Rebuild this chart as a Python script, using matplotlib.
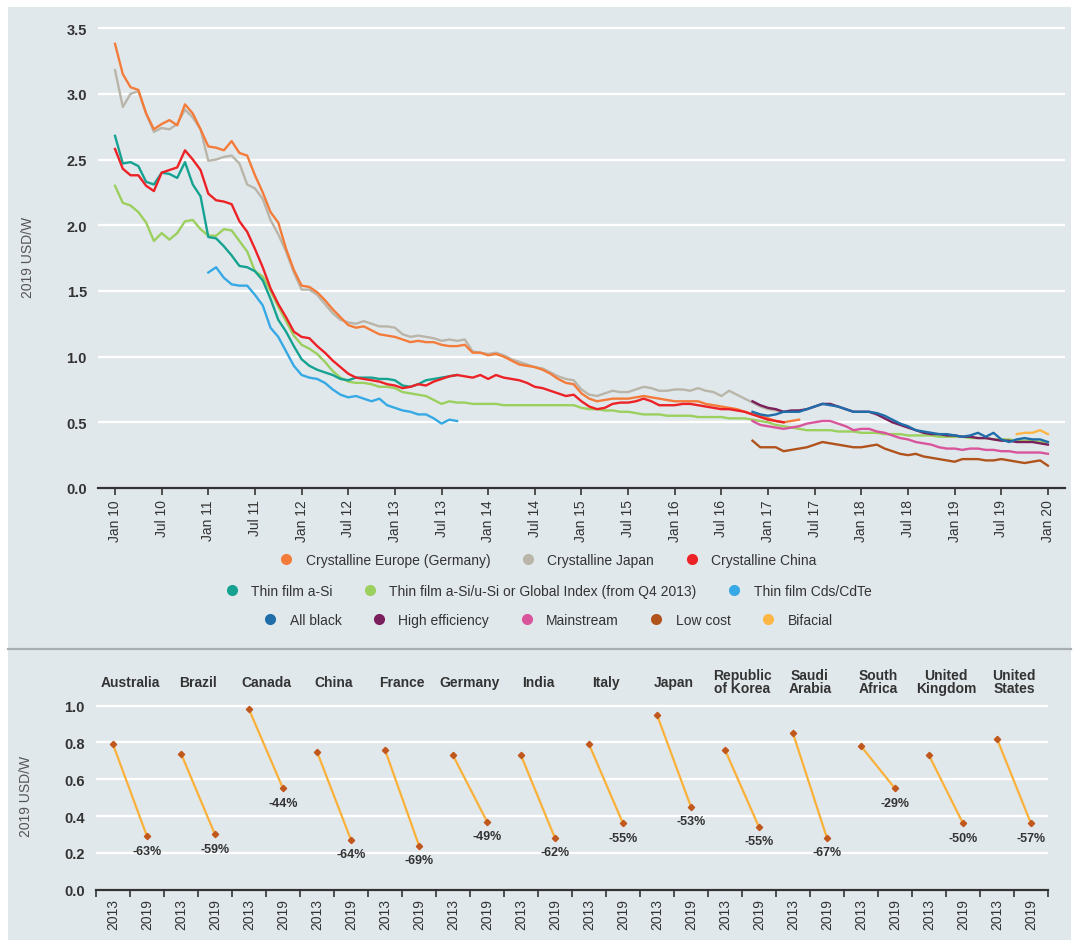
import matplotlib
matplotlib.use("Agg")
import matplotlib.pyplot as plt
from matplotlib.lines import Line2D
from matplotlib.patches import Rectangle
import numpy as np

plt.rcParams['font.family'] = ['Liberation Sans Narrow', 'Liberation Sans', 'DejaVu Sans']

# ---------------------------------------------------------------------------
# Data: monthly module prices, month index 0 = Jan 2010
# ---------------------------------------------------------------------------

month_labels = ["Jan 10", "Jul 10", "Jan 11", "Jul 11", "Jan 12", "Jul 12", "Jan 13",
                "Jul 13", "Jan 14", "Jul 14", "Jan 15", "Jul 15", "Jan 16", "Jul 16",
                "Jan 17", "Jul 17", "Jan 18", "Jul 18", "Jan 19", "Jul 19", "Jan 20"]

cryst_europe_start = 0
cryst_europe = [3.38, 3.15, 3.05, 3.03, 2.85, 2.73, 2.77, 2.80, 2.76, 2.92, 2.85, 2.73,
                2.60, 2.59, 2.57, 2.64, 2.55, 2.53, 2.38, 2.25, 2.10, 2.02, 1.82, 1.66,
                1.54, 1.53, 1.49, 1.43, 1.36, 1.30, 1.24, 1.22, 1.23, 1.20, 1.17, 1.16,
                1.15, 1.13, 1.11, 1.12, 1.11, 1.11, 1.09, 1.08, 1.08, 1.09, 1.03, 1.03,
                1.01, 1.02, 1.00, 0.97, 0.94, 0.93, 0.92, 0.90, 0.87, 0.83, 0.80, 0.79,
                0.72, 0.68, 0.66, 0.67, 0.68, 0.68, 0.68, 0.69, 0.70, 0.69, 0.68, 0.67,
                0.66, 0.66, 0.66, 0.66, 0.64, 0.63, 0.62, 0.61, 0.60, 0.58, 0.56, 0.55,
                0.53, 0.51, 0.50, 0.51, 0.52]

cryst_japan_start = 0
cryst_japan = [3.18, 2.90, 3.00, 3.02, 2.85, 2.71, 2.74, 2.73, 2.77, 2.88, 2.82, 2.73,
               2.49, 2.50, 2.52, 2.53, 2.47, 2.31, 2.28, 2.20, 2.04, 1.93, 1.80, 1.64,
               1.51, 1.51, 1.47, 1.40, 1.33, 1.28, 1.26, 1.25, 1.27, 1.25, 1.23, 1.23,
               1.22, 1.17, 1.15, 1.16, 1.15, 1.14, 1.12, 1.13, 1.12, 1.13, 1.04, 1.03,
               1.02, 1.03, 1.01, 0.98, 0.96, 0.94, 0.92, 0.91, 0.88, 0.85, 0.83, 0.82,
               0.75, 0.71, 0.70, 0.72, 0.74, 0.73, 0.73, 0.75, 0.77, 0.76, 0.74, 0.74,
               0.75, 0.75, 0.74, 0.76, 0.74, 0.73, 0.70, 0.74, 0.71, 0.68, 0.65, 0.62,
               0.60, 0.59, 0.58, 0.58, 0.59]

cryst_china_start = 0
cryst_china = [2.58, 2.43, 2.38, 2.38, 2.30, 2.26, 2.40, 2.42, 2.44, 2.57, 2.50, 2.42,
               2.24, 2.19, 2.18, 2.16, 2.03, 1.95, 1.82, 1.68, 1.52, 1.40, 1.30, 1.19,
               1.15, 1.14, 1.08, 1.03, 0.97, 0.92, 0.87, 0.84, 0.83, 0.82, 0.81, 0.79,
               0.78, 0.76, 0.77, 0.79, 0.78, 0.81, 0.83, 0.85, 0.86, 0.85, 0.84, 0.86,
               0.83, 0.86, 0.84, 0.83, 0.82, 0.80, 0.77, 0.76, 0.74, 0.72, 0.70, 0.71,
               0.66, 0.62, 0.60, 0.61, 0.64, 0.65, 0.65, 0.66, 0.68, 0.66, 0.63, 0.63,
               0.63, 0.64, 0.64, 0.63, 0.62, 0.61, 0.60, 0.60, 0.59, 0.58, 0.56, 0.54,
               0.52, 0.51, 0.50]

thin_asi_start = 0
thin_asi = [2.68, 2.47, 2.48, 2.45, 2.33, 2.31, 2.40, 2.39, 2.36, 2.48, 2.31, 2.22,
            1.91, 1.90, 1.84, 1.77, 1.69, 1.68, 1.65, 1.58, 1.44, 1.28, 1.19, 1.08,
            0.98, 0.93, 0.90, 0.88, 0.86, 0.83, 0.82, 0.84, 0.84, 0.84, 0.83, 0.83,
            0.82, 0.78, 0.77, 0.79, 0.82, 0.83, 0.84, 0.85, 0.86]

thin_global_start = 0
thin_global = [2.30, 2.17, 2.15, 2.10, 2.02, 1.88, 1.94, 1.89, 1.94, 2.03, 2.04, 1.97,
               1.92, 1.92, 1.97, 1.96, 1.88, 1.80, 1.65, 1.61, 1.50, 1.38, 1.27, 1.16,
               1.09, 1.06, 1.02, 0.96, 0.89, 0.84, 0.81, 0.80, 0.80, 0.79, 0.77, 0.77,
               0.76, 0.73, 0.72, 0.71, 0.70, 0.67, 0.64, 0.66, 0.65, 0.65, 0.64, 0.64,
               0.64, 0.64, 0.63, 0.63, 0.63, 0.63, 0.63, 0.63, 0.63, 0.63, 0.63, 0.63,
               0.61, 0.60, 0.60, 0.59, 0.59, 0.58, 0.58, 0.57, 0.56, 0.56, 0.56, 0.55,
               0.55, 0.55, 0.55, 0.54, 0.54, 0.54, 0.54, 0.53, 0.53, 0.53, 0.52, 0.51,
               0.50, 0.48, 0.47, 0.46, 0.45, 0.44, 0.44, 0.44, 0.44, 0.43, 0.43, 0.43,
               0.42, 0.42, 0.42, 0.41, 0.41, 0.41, 0.40, 0.40, 0.40, 0.40, 0.39, 0.39,
               0.39, 0.39, 0.38, 0.38, 0.38, 0.37, 0.37, 0.37, 0.36, 0.36, 0.36, 0.35,
               0.35]

thin_cdte_start = 12
thin_cdte = [1.64, 1.68, 1.60, 1.55, 1.54, 1.54, 1.47, 1.39, 1.22, 1.15, 1.04, 0.93,
             0.86, 0.84, 0.83, 0.80, 0.75, 0.71, 0.69, 0.70, 0.68, 0.66, 0.68, 0.63,
             0.61, 0.59, 0.58, 0.56, 0.56, 0.53, 0.49, 0.52, 0.51]

all_black_start = 82
all_black = [0.58, 0.56, 0.55, 0.56, 0.58, 0.58, 0.58, 0.60, 0.62, 0.64, 0.63, 0.62,
             0.60, 0.58, 0.58, 0.58, 0.57, 0.55, 0.52, 0.49, 0.47, 0.44, 0.43, 0.42,
             0.41, 0.41, 0.40, 0.39, 0.40, 0.42, 0.39, 0.42, 0.37, 0.35, 0.37, 0.38,
             0.37, 0.37, 0.35]

high_eff_start = 82
high_eff = [0.66, 0.63, 0.61, 0.60, 0.58, 0.59, 0.59, 0.60, 0.62, 0.64, 0.64, 0.62,
            0.60, 0.58, 0.58, 0.58, 0.56, 0.53, 0.50, 0.48, 0.46, 0.44, 0.42, 0.41,
            0.41, 0.40, 0.40, 0.39, 0.39, 0.38, 0.38, 0.37, 0.36, 0.36, 0.35, 0.35,
            0.35, 0.34, 0.33]

mainstream_start = 82
mainstream = [0.51, 0.48, 0.47, 0.46, 0.45, 0.46, 0.47, 0.49, 0.50, 0.51, 0.51, 0.49,
              0.47, 0.44, 0.45, 0.45, 0.43, 0.42, 0.40, 0.38, 0.37, 0.35, 0.34, 0.33,
              0.31, 0.30, 0.30, 0.29, 0.30, 0.30, 0.29, 0.29, 0.28, 0.28, 0.27, 0.27,
              0.27, 0.27, 0.26]

low_cost_start = 82
low_cost = [0.36, 0.31, 0.31, 0.31, 0.28, 0.29, 0.30, 0.31, 0.33, 0.35, 0.34, 0.33,
            0.32, 0.31, 0.31, 0.32, 0.33, 0.30, 0.28, 0.26, 0.25, 0.26, 0.24, 0.23,
            0.22, 0.21, 0.20, 0.22, 0.22, 0.22, 0.21, 0.21, 0.22, 0.21, 0.20, 0.19,
            0.20, 0.21, 0.17]

bifacial_start = 116
bifacial = [0.41, 0.42, 0.42, 0.44, 0.41]

series_labels = ["Crystalline Europe (Germany)", "Crystalline Japan", "Crystalline China",
                 "Thin film a-Si", "Thin film a-Si/u-Si or Global Index (from Q4 2013)",
                 "Thin film Cds/CdTe", "All black", "High efficiency", "Mainstream",
                 "Low cost", "Bifacial"]

# Country comparison 2013 vs 2019
countries = ["Australia", "Brazil", "Canada", "China", "France", "Germany", "India",
             "Italy", "Japan", "Republic\nof Korea", "Saudi\nArabia", "South\nAfrica",
             "United\nKingdom", "United\nStates"]
price_2013 = [0.79, 0.74, 0.98, 0.75, 0.76, 0.73, 0.73, 0.79, 0.95, 0.76, 0.85, 0.78, 0.73, 0.82]
price_2019 = [0.29, 0.30, 0.55, 0.27, 0.24, 0.37, 0.28, 0.36, 0.45, 0.34, 0.28, 0.55, 0.36, 0.36]
change_labels = ["-63%", "-59%", "-44%", "-64%", "-69%", "-49%", "-62%", "-55%", "-53%",
                 "-55%", "-67%", "-29%", "-50%", "-57%"]
years = ["2013", "2019"]

# ---------------------------------------------------------------------------
# Style
# ---------------------------------------------------------------------------

W, H = 1078, 945
BG = "#E1E8EC"
TXT = "#333333"
colours = ["#F47C3A", "#B9B5A9", "#EC2227", "#15A291", "#9BCF5E", "#36A9E4",
           "#1F6EAA", "#7A1F5C", "#D8559C", "#B0531D", "#FDB545"]

fig = plt.figure(figsize=(W / 100, H / 100), dpi=100)
fig.patch.set_facecolor("white")
fig.patches.append(Rectangle((8 / W, 1 - 941 / H), (1071 - 8) / W, (941 - 8) / H,
                             transform=fig.transFigure, facecolor=BG, edgecolor="none",
                             zorder=-10))
fig.lines.append(Line2D([8 / W, 1071 / W], [1 - 650 / H] * 2, transform=fig.transFigure,
                        color="#A8AEB2", linewidth=1.6))


def style_axes(ax):
    ax.set_facecolor(BG)
    for s in ["top", "right", "left"]:
        ax.spines[s].set_visible(False)
    ax.spines["bottom"].set_color(TXT)
    ax.spines["bottom"].set_linewidth(1.6)
    ax.yaxis.grid(True, color="white", linewidth=1.6)
    ax.set_axisbelow(True)
    ax.tick_params(axis="y", length=0, pad=8, labelsize=10.5, labelcolor=TXT)
    for t in ax.get_yticklabels():
        t.set_fontweight("bold")


# ---------------------------------------------------------------------------
# Top panel: time series
# ---------------------------------------------------------------------------

ax1 = fig.add_axes([98 / W, 1 - 489 / H, (1065 - 98) / W, (489 - 26.5) / H])
all_series = [
    (cryst_europe_start, cryst_europe), (cryst_japan_start, cryst_japan),
    (cryst_china_start, cryst_china), (thin_asi_start, thin_asi),
    (thin_global_start, thin_global), (thin_cdte_start, thin_cdte),
    (all_black_start, all_black), (high_eff_start, high_eff),
    (mainstream_start, mainstream), (low_cost_start, low_cost),
    (bifacial_start, bifacial),
]
# draw order: keep crystalline/thin film on top like the source
order = [4, 5, 3, 1, 0, 2, 8, 9, 7, 6, 10]
for i in order:
    start, vals = all_series[i]
    x = np.arange(start, start + len(vals))
    ax1.plot(x, vals, color=colours[i], linewidth=1.7, solid_joinstyle="round")

ax1.set_xlim(-2.19, 122.2)
ax1.set_ylim(0, 3.52)
ax1.set_yticks(np.arange(0, 3.51, 0.5))
ax1.set_yticklabels([f"{v:.1f}" for v in np.arange(0, 3.51, 0.5)])
ax1.set_xticks(np.arange(0, 121, 6))
ax1.set_xticklabels(month_labels, rotation=90, fontsize=10, color=TXT)
ax1.tick_params(axis="x", length=5, width=1.2, color=TXT, pad=3)
style_axes(ax1)
ax1.set_ylabel("2019 USD/W", fontsize=10, color="#555555")
ax1.yaxis.set_label_coords(-0.065, 0.5)

# legend rows
rows = [[0, 1, 2], [3, 4, 5], [6, 7, 8, 9, 10]]
row_y = [561, 592, 621]
for row, ypix in zip(rows, row_y):
    handles = [Line2D([], [], linestyle="none", marker="o", markersize=8,
                      markerfacecolor=colours[i], markeredgecolor="none") for i in row]
    leg = fig.legend(handles, [series_labels[i] for i in row], loc="center",
                     bbox_to_anchor=(548 / W, 1 - ypix / H), ncol=len(row),
                     frameon=False, fontsize=10, handlelength=1.0, handletextpad=0.9,
                     columnspacing=2.2, labelcolor=TXT)

# ---------------------------------------------------------------------------
# Bottom panel: country comparison
# ---------------------------------------------------------------------------

ax2 = fig.add_axes([96 / W, 1 - 890.7 / H, (1048 - 96) / W, (890.7 - 703) / H])
n = len(countries)
tick_labels = years * n
for k in range(n):
    xs = [2 * k, 2 * k + 1]
    ys = [price_2013[k], price_2019[k]]
    ax2.plot(xs, ys, color="#F9B13A", linewidth=1.6, zorder=2)
    ax2.plot(xs, ys, linestyle="none", marker="D", markersize=3.2,
             color="#C0581E", zorder=3)
    ax2.text(2 * k + 1, price_2019[k] - 0.045, change_labels[k], ha="center", va="top",
             fontsize=9, fontweight="bold", color=TXT)
    ax2.text(2 * k + 0.5, 1.13, countries[k], ha="center", va="center",
             fontsize=10, fontweight="bold", color=TXT, linespacing=0.95,
             clip_on=False)

ax2.set_xlim(-0.5, 2 * n - 0.5)
ax2.set_ylim(0, 1.02)
ax2.set_yticks(np.arange(0, 1.01, 0.2))
ax2.set_yticklabels([f"{v:.1f}" for v in np.arange(0, 1.01, 0.2)])
ax2.set_xticks(np.arange(2 * n))
ax2.set_xticklabels(tick_labels, rotation=90, fontsize=10, color=TXT)
ax2.set_xticks(np.arange(-0.5, 2 * n, 1.0), minor=True)
ax2.tick_params(axis="x", which="major", length=0, pad=6)
ax2.tick_params(axis="x", which="minor", length=5, width=1.2, color=TXT)
style_axes(ax2)
ax2.set_ylabel("2019 USD/W", fontsize=10, color="#555555")
ax2.yaxis.set_label_coords(-0.066, 0.5)

fig.savefig("out.png", dpi=100, facecolor=fig.get_facecolor())
